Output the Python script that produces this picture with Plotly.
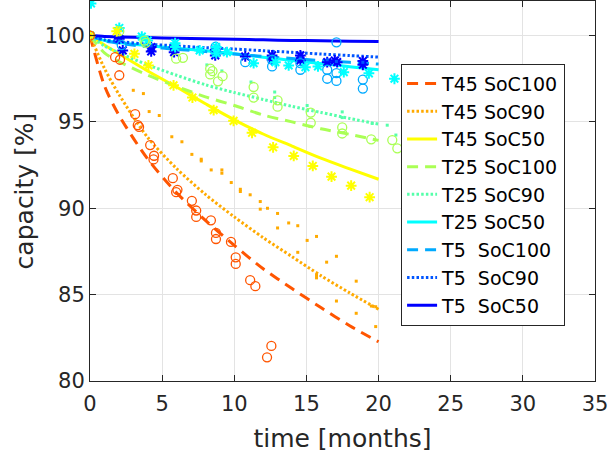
import plotly.graph_objects as go

# ---------------- data ----------------
t_fit = [0, 1, 2, 4, 6, 8, 10, 12, 14, 16, 18, 20]
fit_T45_SoC100 = [100, 97.1, 95.4, 92.85, 90.9, 89.3, 87.85, 86.5, 85.35, 84.25, 83.2, 82.27]
fit_T45_SoC90 = [100, 98.1, 96.6, 94.1, 92.3, 90.8, 89.5, 88.3, 87.2, 86.1, 85.1, 84.15]
fit_T45_SoC50 = [100, 99.45, 98.95, 97.95, 97.02, 96.05, 95.12, 94.3, 93.6, 92.9, 92.28, 91.68]
fit_T25_SoC100 = [100, 99.0, 98.5, 97.7, 97.05, 96.45, 95.95, 95.4, 95.0, 94.6, 94.28, 93.93]
fit_T25_SoC90 = [100, 99.4, 99.0, 98.3, 97.7, 97.15, 96.7, 96.3, 95.9, 95.55, 95.2, 94.87]
fit_T25_SoC50 = [100, 99.72, 99.6, 99.42, 99.27, 99.12, 98.95, 98.75, 98.56, 98.38, 98.2, 98.02]
fit_T5_SoC100 = [100, 99.7, 99.55, 99.35, 99.2, 99.07, 98.93, 98.79, 98.67, 98.55, 98.45, 98.35]
fit_T5_SoC90 = [100, 99.75, 99.65, 99.5, 99.4, 99.3, 99.22, 99.12, 99.03, 98.93, 98.84, 98.75]
fit_T5_SoC50 = [100, 99.95, 99.92, 99.88, 99.85, 99.82, 99.78, 99.75, 99.72, 99.7, 99.67, 99.65]

t_T45_SoC100 = [0, 1.74, 2.08, 2.03, 3.13, 3.31, 3.4, 4.17, 4.44, 4.4, 5.74, 6.06, 5.97, 7.06, 7.36, 7.36,
                8.38, 8.73, 8.73, 9.77, 10.1, 10.1, 11.1, 11.46, 12.57, 12.27]
c_T45_SoC100 = [100, 98.75, 98.6, 97.7, 95.45, 94.81, 94.71, 93.66, 93.04, 92.83, 91.74, 91.07, 90.93, 90.43,
                89.87, 89.5, 89.3, 88.57, 88.22, 88.05, 87.16, 86.78, 85.84, 85.49, 82.03, 81.37]

t_T45_SoC90 = [0, 3.0, 3.7, 4.1, 4.8, 5.67, 6.37, 7.06, 7.71, 7.71, 8.4, 9.14, 9.14, 9.79, 10.42, 10.42,
               11.1, 11.8, 11.8, 12.3, 13.0, 13.0, 13.77, 14.4, 14.4, 15.05, 15.7, 15.7, 15.7, 16.4,
               17.08, 17.08, 18.45, 18.45, 19.5, 19.8, 19.8]
c_T45_SoC90 = [100, 96.83, 96.64, 95.6, 95.37, 94.14, 93.85, 93.12, 92.84, 92.74, 92.22, 92.22, 92.03,
               91.49, 91.1, 90.97, 90.78, 90.39, 89.95, 90.0, 89.7, 88.86, 89.15, 88.99, 87.45, 88.14,
               88.37, 86.11, 85.97, 86.88, 87.22, 84.63, 85.78, 83.92, 84.34, 84.3, 83.15]

t_T45_SoC50 = [0, 1.85, 3.08, 4.05, 5.79, 7.1, 8.57, 9.95, 11.23, 12.69, 14.12, 15.44, 16.74, 18.1, 19.38]
c_T45_SoC50 = [100, 100.25, 98.94, 98.27, 97.12, 96.41, 95.68, 95.06, 94.37, 93.53, 93.03, 92.45, 91.83,
               91.31, 90.64]

t_T25_SoC100 = [0, 2.03, 3.77, 3.87, 5.97, 6.44, 8.33, 8.49, 8.33, 8.87, 9.19, 11.34, 11.34, 13.0, 13.0,
                15.3, 15.3, 17.48, 17.48, 19.49, 20.95, 21.3]
c_T25_SoC100 = [100, 100.25, 99.71, 99.58, 98.66, 98.71, 98.08, 97.94, 97.75, 97.35, 97.65, 97.02, 96.41,
                96.25, 95.88, 95.54, 94.95, 94.68, 94.33, 93.99, 93.95, 93.47]

t_T25_SoC90 = [0, 8.1, 9.14, 11.16, 12.8, 12.8, 15.05, 15.05, 17.48, 17.48, 19.56, 20.6, 21.2]
c_T25_SoC90 = [100, 98.3, 97.95, 97.31, 96.73, 96.41, 95.95, 95.65, 95.58, 95.25, 94.91, 94.81, 94.24]

t_T25_SoC50 = [0, 0.07, 2.03, 3.59, 4.0, 5.9, 5.9, 7.6, 8.75, 8.75, 9.49, 11.34, 12.85, 13.77, 14.93,
               15.8, 17.59, 19.33, 21.1]
c_T25_SoC50 = [100, 101.86, 100.44, 99.94, 99.71, 99.56, 99.33, 99.14, 99.33, 98.98, 99.04, 98.4, 98.46,
               98.27, 98.17, 98.21, 97.88, 97.81, 97.5]

t_T5_SoC100 = [0, 2.2, 8.7, 8.7, 10.76, 12.62, 12.62, 14.58, 14.58, 16.44, 16.44, 17.08, 17.08, 17.08,
               18.91, 18.91]
c_T5_SoC100 = [100, 99.45, 99.35, 99.05, 98.46, 98.6, 98.21, 98.4, 98.02, 98.02, 97.5, 99.61, 97.83, 97.37,
               97.45, 96.93]

t_T5_SoC90 = [0, 2.03, 4.24, 5.83, 8.68, 10.76, 12.62, 14.58, 16.44, 17.08, 18.91]
c_T5_SoC90 = [100, 99.7, 99.4, 99.2, 99.1, 98.9, 98.75, 98.7, 98.6, 98.5, 98.45]

t_T5_SoC50 = [0, 2.03, 2.27, 4.24, 4.24, 5.83, 5.83, 8.68, 8.68, 10.76, 12.62, 12.62, 14.58, 14.58,
              16.44, 16.97, 17.13, 18.91, 18.91]
c_T5_SoC50 = [100, 99.81, 99.14, 99.33, 99.08, 99.33, 99.04, 99.18, 98.85, 98.79, 98.85, 98.6, 98.85,
              98.56, 98.46, 98.56, 98.46, 98.52, 98.31]

labels = ["T45 SoC100", "T45 SoC90", "T45 SoC50",
          "T25 SoC100", "T25 SoC90", "T25 SoC50",
          "T5\u00a0\u00a0SoC100", "T5\u00a0\u00a0SoC90", "T5\u00a0\u00a0SoC50"]
# ---------------------------------------------------------------

colors = ['#ff5500', '#ffaa00', '#ffff00', '#aaff55', '#55ffaa', '#00ffff', '#00aaff', '#0055ff', '#0000ff']
DASH = "11px,7px"
DOT = "2.5px,2.2px"
dashes = [DASH, DOT, 'solid'] * 3
fits = [fit_T45_SoC100, fit_T45_SoC90, fit_T45_SoC50, fit_T25_SoC100, fit_T25_SoC90, fit_T25_SoC50,
        fit_T5_SoC100, fit_T5_SoC90, fit_T5_SoC50]
meas_t = [t_T45_SoC100, t_T45_SoC90, t_T45_SoC50, t_T25_SoC100, t_T25_SoC90, t_T25_SoC50,
          t_T5_SoC100, t_T5_SoC90, t_T5_SoC50]
meas_c = [c_T45_SoC100, c_T45_SoC90, c_T45_SoC50, c_T25_SoC100, c_T25_SoC90, c_T25_SoC50,
          c_T5_SoC100, c_T5_SoC90, c_T5_SoC50]

fig = go.Figure()

for i in range(9):
    fig.add_trace(go.Scatter(
        x=t_fit, y=fits[i], mode='lines', name=labels[i],
        line=dict(color=colors[i], width=3, dash=dashes[i], shape='spline', smoothing=0.8),
    ))

for i in reversed(range(9)):
    kind = i % 3
    if kind == 0:
        marker = dict(symbol='circle-open', size=9, color=colors[i], line=dict(width=1.3, color=colors[i]))
    elif kind == 1:
        marker = dict(symbol='square', size=3, color=colors[i], line=dict(width=0))
    else:
        marker = dict(symbol='asterisk-open', size=9, color=colors[i], line=dict(width=2, color=colors[i]))
    fig.add_trace(go.Scatter(
        x=meas_t[i], y=meas_c[i], mode='markers', marker=marker, showlegend=False,
        cliponaxis=True, hoverinfo='skip'))

axis_common = dict(
    ticks='inside', ticklen=6, tickwidth=1, tickcolor='#262626',
    showline=True, linecolor='#262626', linewidth=1, mirror='ticks',
    showgrid=True, gridcolor='#e3e3e3', gridwidth=1, zeroline=False, automargin=False,
    tickfont=dict(family='DejaVu Sans', size=21, color='#262626'),
)

fig.update_xaxes(range=[0, 35], tickvals=[0, 5, 10, 15, 20, 25, 30, 35], ticklabelstandoff=4,
                 title=dict(text='time [months]', font=dict(family='DejaVu Sans', size=25, color='#262626'),
                            standoff=14),
                 **axis_common)
fig.update_yaxes(range=[80, 102], tickvals=[80, 85, 90, 95, 100],
                 title=dict(text='capacity [%]', font=dict(family='DejaVu Sans', size=25, color='#262626'),
                            standoff=3),
                 **axis_common)

fig.update_layout(
    width=613, height=457,
    margin=dict(l=90, r=18, t=1, b=76, autoexpand=False),
    plot_bgcolor='white', paper_bgcolor='white',
    font=dict(family='DejaVu Sans', size=19, color='#262626'),
    legend=dict(x=0.616, y=0.835, xanchor='left', yanchor='top', bgcolor='white',
                bordercolor='#262626', borderwidth=1, title=dict(text=''),
                font=dict(family='DejaVu Sans', size=19, color='black'), tracegroupgap=0),
)

fig.write_html("out.html", post_script="document.body.style.margin='0px';",
               config={'displayModeBar': False})
